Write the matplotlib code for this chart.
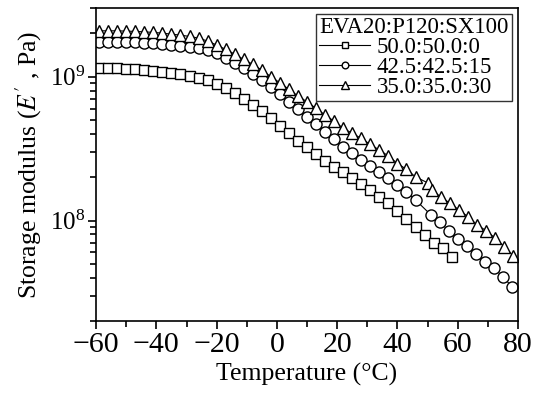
import matplotlib
matplotlib.use("Agg")
import matplotlib.pyplot as plt
from matplotlib.ticker import LogLocator, MultipleLocator, NullFormatter

plt.rcParams['font.family'] = ['Liberation Serif', 'DejaVu Serif']
plt.rcParams['mathtext.fontset'] = 'stix'

# data (temperature in C, storage modulus in Pa)
t_sq = [-59, -56, -53, -50, -47, -44, -41, -38, -35, -32, -29, -26, -23, -20,
        -17, -14, -11, -8, -5, -2, 1, 4, 7, 10, 13, 16, 19, 22, 25, 28, 31, 34,
        37, 40, 43, 46, 49, 52, 55, 58]
e_sq = [1.151e9, 1.151e9, 1.140e9, 1.132e9, 1.122e9, 1.109e9, 1.091e9, 1.069e9,
        1.052e9, 1.035e9, 1.007e9, 9.82e8, 9.46e8, 8.91e8, 8.28e8, 7.64e8, 6.98e8,
        6.34e8, 5.75e8, 5.13e8, 4.55e8, 4.04e8, 3.59e8, 3.22e8, 2.90e8, 2.60e8,
        2.37e8, 2.16e8, 1.96e8, 1.79e8, 1.63e8, 1.46e8, 1.33e8, 1.17e8, 1.02e8,
        8.97e7, 7.93e7, 7.02e7, 6.41e7, 5.61e7]

t_ci = [-59, -56, -53, -50, -47, -44, -41, -38, -35, -32, -29, -26, -23, -20,
        -17, -14, -11, -8, -5, -2, 1, 4, 7, 10, 13, 16, 19, 22, 25, 28, 31, 34,
        37, 40, 43, 46, 51, 54, 57, 60, 63, 66, 69, 72, 75, 78]
e_ci = [1.746e9, 1.746e9, 1.746e9, 1.738e9, 1.730e9, 1.718e9, 1.702e9, 1.683e9,
        1.663e9, 1.637e9, 1.611e9, 1.578e9, 1.528e9, 1.449e9, 1.337e9, 1.236e9,
        1.140e9, 1.040e9, 9.46e8, 8.49e8, 7.52e8, 6.68e8, 5.92e8, 5.26e8, 4.66e8,
        4.14e8, 3.66e8, 3.26e8, 2.93e8, 2.63e8, 2.39e8, 2.18e8, 1.96e8, 1.77e8,
        1.58e8, 1.39e8, 1.10e8, 9.77e7, 8.51e7, 7.41e7, 6.61e7, 5.89e7, 5.13e7,
        4.68e7, 4.07e7, 3.47e7]

t_tr = [-59, -56, -53, -50, -47, -44, -41, -38, -35, -32, -29, -26, -23, -20,
        -17, -14, -11, -8, -5, -2, 1, 4, 7, 10, 13, 16, 19, 22, 25, 28, 31, 34,
        37, 40, 43, 46, 50, 51.5, 54.5, 57.5, 60.5, 63.5, 66.5, 69.5, 72.5, 75.5,
        78.5]
e_tr = [2.080e9, 2.080e9, 2.080e9, 2.070e9, 2.061e9, 2.046e9, 2.028e9, 2.004e9,
        1.972e9, 1.941e9, 1.901e9, 1.849e9, 1.766e9, 1.656e9, 1.545e9, 1.432e9,
        1.315e9, 1.216e9, 1.109e9, 9.98e8, 9.06e8, 8.15e8, 7.33e8, 6.68e8, 6.01e8,
        5.41e8, 4.90e8, 4.37e8, 4.04e8, 3.72e8, 3.38e8, 3.09e8, 2.81e8, 2.49e8,
        2.27e8, 2.01e8, 1.83e8, 1.63e8, 1.45e8, 1.32e8, 1.18e8, 1.06e8, 9.31e7,
        8.49e7, 7.52e7, 6.58e7, 5.66e7]

labels = ['50.0:50.0:0', '42.5:42.5:15', '35.0:35.0:30']

fig = plt.figure(figsize=(5.34, 3.96), dpi=100)
ax = fig.add_axes([0.18, 0.189, 0.79, 0.791])

style = dict(color='black', lw=0.8, mfc='white', mec='black', mew=1.0)
ax.plot(t_sq, e_sq, marker='s', ms=7.5, label=labels[0], **style)
ax.plot(t_ci, e_ci, marker='o', ms=8, label=labels[1], **style)
ax.plot(t_tr, e_tr, marker='^', ms=8.5, label=labels[2], **style)

ax.set_yscale('log')
ax.set_xlim(-60, 80)
ax.set_ylim(2e7, 3e9)
ax.xaxis.set_major_locator(MultipleLocator(20))
ax.xaxis.set_minor_locator(MultipleLocator(10))
ax.yaxis.set_major_locator(LogLocator(base=10))
ax.yaxis.set_minor_locator(LogLocator(base=10, subs=range(2, 10)))
ax.yaxis.set_minor_formatter(NullFormatter())

ax.tick_params(which='both', direction='out', top=False, right=False, width=1.2)
ax.tick_params(which='major', length=6)
ax.tick_params(which='minor', length=4)
ax.tick_params(axis='x', labelsize=21.5, pad=2)
ax.tick_params(axis='y', labelsize=18, pad=2)
for s in ax.spines.values():
    s.set_linewidth(1.2)

ax.set_xlabel('Temperature (°C)', fontsize=18.5, labelpad=3)
ax.set_ylabel("Storage modulus ($E'$ , Pa)", fontsize=18.5, labelpad=4)

leg = ax.legend(title='EVA20:P120:SX100', loc='upper right', fontsize=16.5,
                title_fontsize=16.5, frameon=True, fancybox=False, edgecolor='black',
                borderpad=0.15, labelspacing=-0.05, handlelength=2.2, handletextpad=0.3,
                borderaxespad=0.25, markerscale=0.6)
leg.get_frame().set_linewidth(1.0)
leg._legend_box.align = 'left'

fig.savefig('out.png', dpi=100)
